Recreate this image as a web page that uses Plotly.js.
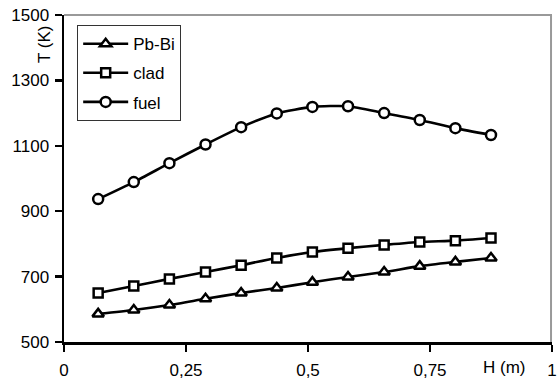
<!DOCTYPE html>
<html>
<head>
<meta charset="utf-8">
<script src="https://cdn.plot.ly/plotly-3.0.1.min.js"></script>
<style>html,body{margin:0;padding:0;background:#fff;}#chart{width:557px;height:385px;}</style>
</head>
<body>
<div id="chart"></div>
<script>
var H = [0.070, 0.143, 0.216, 0.290, 0.363, 0.436, 0.509, 0.582, 0.656, 0.729, 0.802, 0.875];
var pbbi = [586, 598, 613, 632, 650, 665, 683, 699, 714, 732, 745, 757];
var clad = [650, 671, 693, 714, 735, 757, 775, 787, 797, 806, 810, 818];
var fuel = [937, 989, 1047, 1104, 1157, 1199, 1219, 1221, 1200, 1179, 1154, 1133];
var names = ["Pb-Bi", "clad", "fuel"];
var xTicks = [0, 0.25, 0.5, 0.75, 1];
var yTicks = [500, 700, 900, 1100, 1300, 1500];

function tr(y, name, sym, grp, sz) {
  return {
    x: H, y: y, name: name, type: 'scatter', mode: 'lines+markers',
    legendgroup: grp,
    line: {color: '#000', width: 2.6, shape: 'spline', smoothing: 0.6},
    marker: {symbol: sym, size: sz, color: '#fff', line: {color: '#000', width: 2.5}}
  };
}
var data = [
  tr(pbbi, names[0], 'triangle-up', 'a', 10),
  tr(clad, names[1], 'square', 'b', 9),
  tr(fuel, names[2], 'circle', 'c', 10)
];
var font = {family: 'Liberation Sans, Arial, sans-serif', size: 17, color: '#000'};
var layout = {
  width: 557, height: 385,
  margin: {l: 64, r: 5, t: 15, b: 43},
  paper_bgcolor: '#fff', plot_bgcolor: '#fff',
  separators: ', ',
  font: font,
  showlegend: true,
  legend: {
    x: 0.027, y: 0.969, xanchor: 'left', yanchor: 'top',
    bgcolor: '#fff', bordercolor: '#333', borderwidth: 1,
    font: font, tracegroupgap: 4, itemwidth: 45
  },
  xaxis: {
    range: [0, 1], tickvals: xTicks, ticks: 'outside', ticklen: 7, tickwidth: 2.5,
    tickcolor: '#000', showline: true, linecolor: '#000', linewidth: 2.5,
    showgrid: false, zeroline: false, tickfont: font, fixedrange: true,
    ticklabelstandoff: 4
  },
  yaxis: {
    range: [500, 1500], tickvals: yTicks, ticks: 'outside', ticklen: 7, tickwidth: 2.5,
    tickcolor: '#000', showline: true, linecolor: '#000', linewidth: 2.5,
    showgrid: false, zeroline: false, tickfont: font, fixedrange: true,
    ticklabelstandoff: 2
  },
  shapes: [
    {type: 'line', xref: 'paper', yref: 'paper', x0: 0, x1: 1, y0: 1, y1: 1, line: {color: '#999', width: 2}},
    {type: 'line', xref: 'paper', yref: 'paper', x0: 0.998, x1: 0.998, y0: 0, y1: 1, line: {color: '#999', width: 2}}
  ],
  annotations: [
    {text: 'T (K)', xref: 'paper', yref: 'paper', x: 0, y: 0.908, xshift: -20, textangle: -90,
     showarrow: false, font: font, xanchor: 'center', yanchor: 'middle'},
    {text: 'H (m)', xref: 'paper', yref: 'paper', x: 0.902, y: 0, yshift: -25,
     showarrow: false, font: font, xanchor: 'center', yanchor: 'middle'}
  ]
};
Plotly.newPlot('chart', data, layout, {displayModeBar: false, staticPlot: true});
</script>
</body>
</html>
